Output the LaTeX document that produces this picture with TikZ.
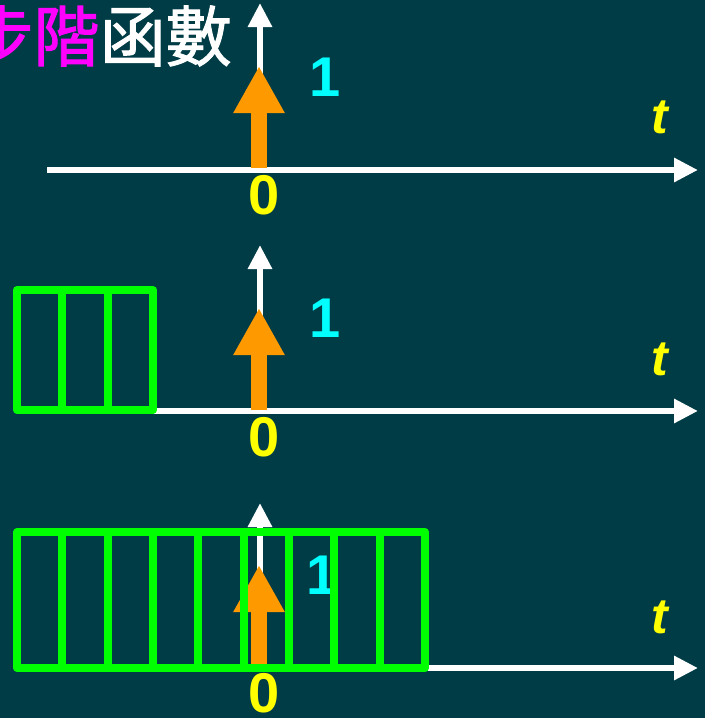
\documentclass[tikz,border=0pt]{standalone}
\usepackage{fontspec}
\setmainfont{Liberation Sans}
\newfontfamily\cjk[FakeBold=1.5]{Noto Sans CJK TC}
\usetikzlibrary{arrows.meta}
\definecolor{bgc}{HTML}{003C46}
\definecolor{orng}{HTML}{FF9900}
\definecolor{grn}{HTML}{00FF00}
\definecolor{cyn}{HTML}{00FFFF}
\definecolor{ylw}{HTML}{FFFF00}
\definecolor{mgt}{HTML}{FF00FF}
\tikzset{
  axisline/.style={white, line width=6.5pt, -{Triangle[length=24pt,width=23pt]}},
  impulsearrow/.style={orng, line width=16pt, -{Triangle[length=47pt,width=48pt]}},
  onelabel/.style={cyn, font=\fontsize{56}{60}\selectfont\bfseries, inner sep=0pt},
  zerolabel/.style={ylw, font=\fontsize{56}{60}\selectfont\bfseries, inner sep=0pt},
  tlabel/.style={ylw, font=\fontsize{50}{54}\selectfont\bfseries\itshape, inner sep=0pt},
  gridbox/.style={grn, line width=8pt, line join=round}
}
\begin{document}
\begin{tikzpicture}[x=1pt,y=-1pt]
\useasboundingbox (0,0) rectangle (705,718);
\clip (0,0) rectangle (705,718);
\fill[bgc] (0,0) rectangle (705,718);
% title
\node[anchor=east, inner sep=0pt, white, font=\cjk\fontsize{66}{72}\selectfont] (title) at (232,36) {{\color{mgt}步階}函數};
% panel 1
\coordinate (h1a) at (47,170); \coordinate (h1b) at (698,170);
\coordinate (v1a) at (260,170); \coordinate (v1b) at (260,3);
\coordinate (i1a) at (259,168); \coordinate (i1b) at (259,66);
\draw[axisline] (h1a) -- (h1b);
\draw[axisline] (v1a) -- (v1b);
\draw[impulsearrow] (i1a) -- (i1b);
\node[onelabel] (one1) at (325,77) {1};
\node[zerolabel] (zero1) at (264,195) {0};
\node[tlabel] (t1) at (660,117) {t};
% panel 2
\coordinate (h2a) at (47,411); \coordinate (h2b) at (698,411);
\coordinate (v2a) at (260,411); \coordinate (v2b) at (260,245);
\coordinate (i2a) at (259,410); \coordinate (i2b) at (259,308);
\draw[axisline] (h2a) -- (h2b);
\draw[axisline] (v2a) -- (v2b);
\draw[impulsearrow] (i2a) -- (i2b);
\node[onelabel] (one2) at (325,318) {1};
\node[zerolabel] (zero2) at (264,437) {0};
\node[tlabel] (t2) at (660,359) {t};
\draw[gridbox] (17,290) rectangle (153,410);
\foreach \k in {1,2} \draw[gridbox] ({17+45.33*\k},290) -- ({17+45.33*\k},410);
% panel 3
\coordinate (h3a) at (47,668); \coordinate (h3b) at (698,668);
\coordinate (v3a) at (260,668); \coordinate (v3b) at (260,503);
\coordinate (i3a) at (259,668); \coordinate (i3b) at (259,565);
\draw[axisline] (h3a) -- (h3b);
\draw[axisline] (v3a) -- (v3b);
\draw[impulsearrow] (i3a) -- (i3b);
\node[onelabel] (one3) at (322,575) {1};
\node[zerolabel] (zero3) at (264,693) {0};
\node[tlabel] (t3) at (660,617) {t};
\draw[gridbox] (17,532) rectangle (425,668);
\foreach \k in {1,...,8} \draw[gridbox] ({17+45.33*\k},532) -- ({17+45.33*\k},668);
\end{tikzpicture}
\end{document}
